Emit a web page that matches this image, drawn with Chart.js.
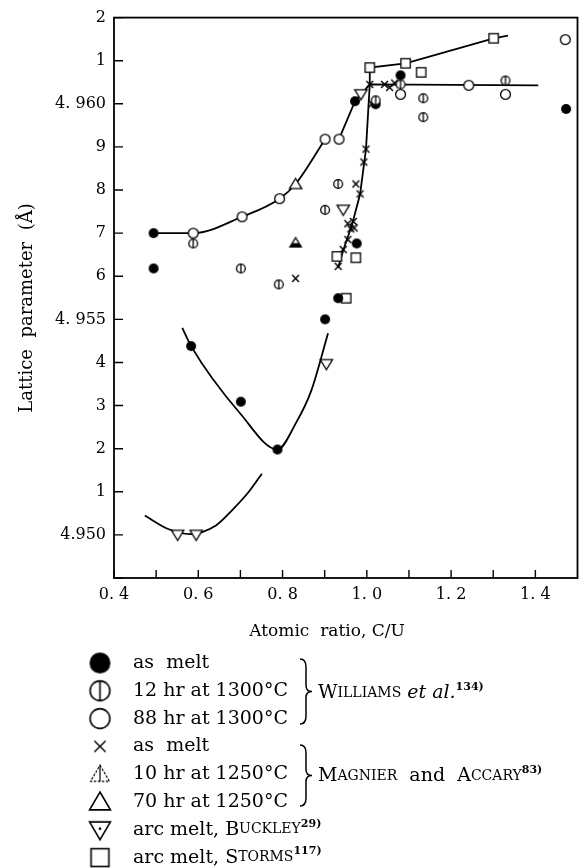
<!DOCTYPE html>
<html>
<head>
<meta charset="utf-8">
<script src="https://cdn.jsdelivr.net/npm/chart.js@4"></script>
<style>
  body { margin: 0; background: #fff; }
  canvas { display: block; }
</style>
</head>
<body>
<canvas id="c" width="585" height="868"></canvas>
<script>
// Lattice parameter of UC vs C/U

const xTickLabels = ['0. 4', '', '0. 6', '', '0. 8', '', '1. 0', '', '1. 2', '', '1. 4', ''];
const yTickLabels = ['', '4.950', '1', '2', '3', '4', '4. 955', '6', '7', '8', '9', '4. 960', '1', '2'];

// Williams et al.
const asMeltW = [[0.494, 4.957], [0.494, 4.95618], [0.583, 4.95438], [0.701, 4.95309], [0.788, 4.95198],
  [0.901, 4.955], [0.932, 4.95549], [0.976, 4.95676], [0.972, 4.96006], [1.021, 4.95999], [1.08, 4.96066], [1.473, 4.95988]];
const hr12 = [[0.588, 4.95676], [0.701, 4.95618], [0.791, 4.95581], [0.901, 4.95754], [0.932, 4.95814],
  [1.021, 4.96008], [1.08, 4.96045], [1.134, 4.96013], [1.134, 4.95969], [1.329, 4.96054]];
const hr88 = [[0.588, 4.957], [0.704, 4.95738], [0.793, 4.9578], [0.901, 4.95918], [0.934, 4.95918],
  [1.08, 4.96022], [1.242, 4.96043], [1.329, 4.96022], [1.471, 4.96149]];
// Magnier and Accary
const asMeltM = [[0.831, 4.95595], [1.007, 4.96045], [1.042, 4.96045], [1.054, 4.96038], [1.066, 4.96048], [1.012, 4.96],
  [0.998, 4.95895], [0.993, 4.95865], [0.974, 4.95814], [0.984, 4.95791], [0.955, 4.95722], [0.968, 4.95727],
  [0.962, 4.9571], [0.97, 4.95712], [0.955, 4.95685], [0.944, 4.95662], [0.932, 4.95623]];
const hr10 = [[0.831, 4.95678]];
const hr70 = [[0.831, 4.95814]];
// Buckley, Storms
const buckley = [[0.551, 4.950], [0.595, 4.950], [0.904, 4.95396], [0.944, 4.95754], [0.986, 4.96022]];
const storms = [[1.007, 4.96084], [1.092, 4.96094], [1.301, 4.96152], [1.129, 4.96073], [0.929, 4.95646],
  [0.974, 4.95643], [0.951, 4.95549]];

// drawn curves
const curveW1 = [[0.494, 4.957], [0.588, 4.957], [0.704, 4.95738], [0.793, 4.9578], [0.831, 4.95814], [0.901, 4.95918]];
const curveW2 = [[0.934, 4.95918], [0.972, 4.96006], [1.007, 4.96045], [1.407, 4.96043]];
const curveM = [[1.007, 4.96045], [0.998, 4.95895], [0.984, 4.9579], [0.965, 4.9572], [0.944, 4.9566], [0.932, 4.9562]];
const curveS = [[1.007, 4.96045], [1.007, 4.96084], [1.092, 4.96094], [1.301, 4.96152], [1.335, 4.96158]];
const curveMelt = [[0.562, 4.9548], [0.583, 4.95438], [0.70, 4.95281], [0.788, 4.95198], [0.831, 4.95258], [0.868, 4.95334], [0.908, 4.95468]];
const curveB = [[0.473, 4.95045], [0.53, 4.95013], [0.58, 4.95002], [0.642, 4.95022], [0.68, 4.95057], [0.72, 4.951], [0.751, 4.95142]];

const SERIF = '"DejaVu Serif", serif';

function makeSymbol(kind, r) {
  const s = Math.ceil(2 * r + 4);
  const cv = document.createElement('canvas');
  cv.width = s; cv.height = s;
  const g = cv.getContext('2d');
  const c = s / 2;
  g.lineWidth = r > 7 ? 1.6 : 1.3;
  g.strokeStyle = '#000';
  g.fillStyle = '#fff';
  if (kind === 'filled') {
    g.beginPath(); g.arc(c, c, r, 0, Math.PI * 2); g.fillStyle = '#000'; g.fill();
  } else if (kind === 'bar' || kind === 'open') {
    g.beginPath(); g.arc(c, c, r - 0.6, 0, Math.PI * 2); g.fill(); g.stroke();
    if (kind === 'bar') { g.beginPath(); g.moveTo(c, c - r + 0.6); g.lineTo(c, c + r - 0.6); g.stroke(); }
  } else if (kind === 'cross') {
    const d = 0.62 * r;
    g.lineWidth = r > 7 ? 1.4 : 1.5;
    g.beginPath(); g.moveTo(c - d, c - d); g.lineTo(c + d, c + d);
    g.moveTo(c + d, c - d); g.lineTo(c - d, c + d); g.stroke();
  } else if (kind === 'tri' || kind === 'triHalf' || kind === 'triDash') {
    if (kind === 'triDash') { g.setLineDash([2.5, 1.5]); g.lineWidth = 1.2; }
    g.beginPath(); g.moveTo(c, c - r + 1); g.lineTo(c + 0.95 * r, c + 0.72 * r); g.lineTo(c - 0.95 * r, c + 0.72 * r); g.closePath();
    g.fill(); g.stroke();
    if (kind === 'triDash') {
      g.setLineDash([]);
      g.beginPath(); g.moveTo(c, c - r + 1); g.lineTo(c, c + 0.72 * r); g.stroke();
    }
    if (kind === 'triHalf') {
      const yc = c + 0.1 * r, k = (yc - (c - r + 1)) / (1.72 * r - 1);
      g.beginPath(); g.moveTo(c - 0.95 * r * k, yc); g.lineTo(c + 0.95 * r * k, yc);
      g.lineTo(c + 0.95 * r, c + 0.72 * r); g.lineTo(c - 0.95 * r, c + 0.72 * r); g.closePath();
      g.fillStyle = '#000'; g.fill();
    }
  } else if (kind === 'triDown' || kind === 'triDownDot') {
    g.beginPath(); g.moveTo(c - 0.95 * r, c - 0.72 * r); g.lineTo(c + 0.95 * r, c - 0.72 * r); g.lineTo(c, c + r - 1); g.closePath();
    g.fill(); g.stroke();
    if (kind === 'triDownDot') { g.beginPath(); g.arc(c, c - 0.1 * r, 1.3, 0, Math.PI * 2); g.fillStyle = '#000'; g.fill(); }
  } else if (kind === 'square') {
    const h = 0.85 * r;
    g.fillRect(c - h, c - h, 2 * h, 2 * h); g.strokeRect(c - h, c - h, 2 * h, 2 * h);
  }
  return cv;
}

function pts(arr) { return arr.map(p => ({ x: p[0], y: p[1] })); }

function markers(data, kind, r) {
  return { data: pts(data), showLine: false, pointStyle: makeSymbol(kind, r), pointRadius: r, pointHoverRadius: r };
}

function curve(data, smooth) {
  return {
    data: pts(data), showLine: true, pointRadius: 0, borderColor: '#000', borderWidth: 1.8,
    cubicInterpolationMode: smooth ? 'monotone' : 'default', tension: 0, fill: false
  };
}

const legendRows = [
  ['filled', [['as  melt']]],
  ['bar', [['12 hr at 1300°C']]],
  ['open', [['88 hr at 1300°C']]],
  ['cross', [['as  melt']]],
  ['triDash', [['10 hr at 1250°C']]],
  ['tri', [['70 hr at 1250°C']]],
  ['triDownDot', [['arc melt, B'], ['UCKLEY', 'sc'], ['29)', 'sup']]],
  ['square', [['arc melt, S'], ['TORMS', 'sc'], ['117)', 'sup']]]
];
const legendSize = { filled: 10.5, bar: 10.5, open: 10.5, cross: 9, triDash: 10, tri: 11, triDownDot: 11, square: 10.5 };

function drawRich(ctx, x, y, parts) {
  for (const p of parts) {
    const kind = p[1] || '';
    let font = '19px ' + SERIF, dy = 0;
    if (kind === 'sc') font = '14px ' + SERIF;
    if (kind === 'sup') { font = 'bold 11px ' + SERIF; dy = -6; }
    if (kind === 'it') font = 'italic 19px ' + SERIF;
    ctx.font = font;
    ctx.fillText(p[0], x, y + dy);
    x += ctx.measureText(p[0]).width;
  }
}

function brace(ctx, x, y0, y1) {
  const ym = (y0 + y1) / 2;
  ctx.beginPath();
  ctx.moveTo(x - 4, y0);
  ctx.quadraticCurveTo(x + 2, y0, x + 2, y0 + 8);
  ctx.lineTo(x + 2, ym - 6);
  ctx.quadraticCurveTo(x + 2, ym, x + 8, ym);
  ctx.quadraticCurveTo(x + 2, ym, x + 2, ym + 6);
  ctx.lineTo(x + 2, y1 - 8);
  ctx.quadraticCurveTo(x + 2, y1, x - 4, y1);
  ctx.stroke();
}

const decor = {
  id: 'decor',
  afterDraw(chart) {
    const ctx = chart.ctx, a = chart.chartArea;
    const xs = chart.scales.x, ys = chart.scales.y;
    ctx.save();
    ctx.strokeStyle = '#000';
    ctx.lineWidth = 1.8;
    ctx.strokeRect(a.left, a.top, a.right - a.left, a.bottom - a.top);
    ctx.lineWidth = 1.4;
    ctx.beginPath();
    ys.ticks.forEach(t => { const py = ys.getPixelForValue(t.value); ctx.moveTo(a.left, py); ctx.lineTo(a.left + 9, py); });
    xs.ticks.forEach(t => { const px = xs.getPixelForValue(t.value); if (px < a.right - 2) { ctx.moveTo(px, a.bottom); ctx.lineTo(px, a.bottom - 8); } });
    ctx.stroke();

    ctx.fillStyle = '#000';
    ctx.textBaseline = 'middle';
    ctx.textAlign = 'center';
    ctx.font = '17px ' + SERIF;
    ctx.fillText('Atomic  ratio, C/U', 327, 632);
    ctx.save();
    ctx.translate(27, 308);
    ctx.rotate(-Math.PI / 2);
    ctx.font = '18px ' + SERIF;
    ctx.fillText('Lattice  parameter  (Å)', 0, 0);
    ctx.restore();

    ctx.textAlign = 'left';
    legendRows.forEach((row, i) => {
      const y = 663 + i * 27.8;
      const sym = makeSymbol(row[0], legendSize[row[0]]);
      ctx.drawImage(sym, 100 - sym.width / 2, y - sym.height / 2);
      drawRich(ctx, 133, y, row[1]);
    });

    ctx.lineWidth = 1.5;
    brace(ctx, 304, 659, 724);
    brace(ctx, 304, 745, 806);
    drawRich(ctx, 318, 693, [['W'], ['ILLIAMS', 'sc'], [' '], ['et al.', 'it'], ['134)', 'sup']]);
    drawRich(ctx, 318, 776, [['M'], ['AGNIER', 'sc'], ['  and  A'], ['CCARY', 'sc'], ['83)', 'sup']]);
    ctx.restore();
  }
};

new Chart(document.getElementById('c'), {
  type: 'scatter',
  data: {
    datasets: [
      markers(hr88, 'open', 5.5),
      markers(hr12, 'bar', 5),
      markers(asMeltW, 'filled', 5),
      markers(hr10, 'triHalf', 6),
      markers(hr70, 'tri', 6.5),
      markers(buckley, 'triDown', 6.5),
      markers(storms, 'square', 5.5),
      markers(asMeltM, 'cross', 5.5),
      curve(curveW1, true),
      curve(curveW2, false),
      curve(curveM, false),
      curve(curveS, false),
      curve(curveMelt, true),
      curve(curveB, true)
    ]
  },
  options: {
    responsive: false,
    devicePixelRatio: 1,
    animation: false,
    layout: { padding: { left: 0, right: 3, top: 15, bottom: 250 } },
    plugins: { legend: { display: false }, tooltip: { enabled: false } },
    scales: {
      x: {
        type: 'linear', min: 0.4, max: 1.5,
        grid: { display: false, drawTicks: false },
        border: { display: false },
        afterFit: s => { s.height = 40; },
        ticks: {
          stepSize: 0.1, padding: 7, color: '#000', maxRotation: 0, autoSkip: false,
          font: { family: SERIF, size: 16 },
          callback: v => xTickLabels[Math.round((v - 0.4) * 10)] || ''
        }
      },
      y: {
        type: 'linear', min: 4.949, max: 4.962,
        grid: { display: false, drawTicks: false },
        border: { display: false },
        afterFit: s => { s.width = 114; },
        ticks: {
          stepSize: 0.001, padding: 8, color: '#000', autoSkip: false,
          font: { family: SERIF, size: 16 },
          callback: v => yTickLabels[Math.round((v - 4.949) * 1000)] || ''
        }
      }
    }
  },
  plugins: [decor]
});
</script>
</body>
</html>
